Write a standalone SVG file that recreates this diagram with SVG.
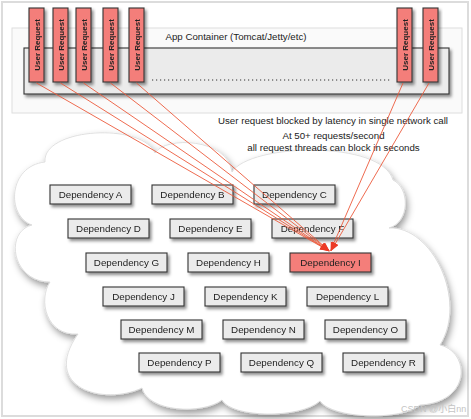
<svg xmlns="http://www.w3.org/2000/svg" width="471" height="419" viewBox="0 0 471 419">
<defs>
<style>
.t{font-family:"Liberation Sans",Arial,sans-serif;fill:#222}
.dep rect{fill:#ebebeb;stroke:#333;stroke-width:1.1}
.dep text{font-family:"Liberation Sans",Arial,sans-serif;font-size:9.8px;fill:#222;text-anchor:middle}
.hot rect{fill:#f47e7a}
.ur rect{fill:#f47e7a;stroke:#333;stroke-width:1.1}
.ur text{font-family:"Liberation Sans",Arial,sans-serif;font-size:8px;font-weight:bold;fill:#222;text-anchor:middle}
.con line{stroke:#ec5a3c;stroke-width:0.9;marker-end:url(#ah)}
</style>
<filter id="sh" x="-20%" y="-20%" width="150%" height="160%">
<feDropShadow dx="2" dy="2.5" stdDeviation="1.5" flood-color="#000" flood-opacity="0.45"/>
</filter>
<filter id="csh" x="-10%" y="-10%" width="130%" height="130%">
<feDropShadow dx="2" dy="4" stdDeviation="3.5" flood-color="#000" flood-opacity="0.4"/>
</filter>
<marker id="ah" markerUnits="userSpaceOnUse" markerWidth="10" markerHeight="8" refX="9" refY="3.5" orient="auto">
<path d="M0,0 L9,3.5 L0,7 z" fill="#ec3a26"/>
</marker>
</defs>
<rect x="0" y="0" width="471" height="419" fill="#fff"/>
<rect x="2" y="2" width="466" height="414" fill="#fff" stroke="#dcdcdc" stroke-width="2"/>

<g id="app-container">
<rect x="12" y="28" width="450" height="85" fill="#fafafa" stroke="#dedede" stroke-width="1"/>
<text class="t" x="236" y="39.5" font-size="9.7" text-anchor="middle">App Container (Tomcat/Jetty/etc)</text>
<rect x="24" y="48" width="425" height="46" fill="#ebebeb" stroke="#333" stroke-width="1.1" filter="url(#sh)"/>
<line x1="152" y1="80" x2="390" y2="80" stroke="#333" stroke-width="1.2" stroke-dasharray="1.2 2.8"/>
</g>

<g id="cloud">
<path d="M32,225 C6,216 8,166 45,162 C42,128 142,122 155,153 C165,136 228,138 232,172 C250,143 382,140 393,180 C410,188 410,222 389,228 C432,226 468,300 440,345 C470,352 472,402 420,405 C402,421 332,419 320,401 C300,419 232,418 222,400 C202,415 148,412 142,388 C104,406 40,388 78,334 C46,336 38,300 50,282 C12,282 4,232 32,225 Z" fill="#fff" stroke="#d9d9d9" stroke-width="0.8" filter="url(#csh)"/>
</g>

<g id="notes" class="t" font-size="9.7" text-anchor="middle">
<text x="333" y="124">User request blocked by latency in single network call</text>
<text x="333.5" y="139">At 50+ requests/second</text>
<text x="333.5" y="150.5">all request threads can block in seconds</text>
</g>

<g id="dep-a" class="dep" filter="url(#sh)"><rect x="50" y="185" width="81" height="19"/><text x="90.5" y="198">Dependency A</text></g>
<g id="dep-b" class="dep" filter="url(#sh)"><rect x="152" y="185" width="81" height="19"/><text x="192.5" y="198">Dependency B</text></g>
<g id="dep-c" class="dep" filter="url(#sh)"><rect x="254" y="185" width="81" height="19"/><text x="294.5" y="198">Dependency C</text></g>
<g id="dep-d" class="dep" filter="url(#sh)"><rect x="68" y="219" width="81" height="19"/><text x="108.5" y="232">Dependency D</text></g>
<g id="dep-e" class="dep" filter="url(#sh)"><rect x="170" y="219" width="81" height="19"/><text x="210.5" y="232">Dependency E</text></g>
<g id="dep-f" class="dep" filter="url(#sh)"><rect x="272" y="219" width="81" height="19"/><text x="312.5" y="232">Dependency F</text></g>
<g id="dep-g" class="dep" filter="url(#sh)"><rect x="86" y="253" width="81" height="19"/><text x="126.5" y="266">Dependency G</text></g>
<g id="dep-h" class="dep" filter="url(#sh)"><rect x="188" y="253" width="81" height="19"/><text x="228.5" y="266">Dependency H</text></g>
<g id="dep-i" class="dep hot" filter="url(#sh)"><rect x="290" y="253" width="81" height="19"/><text x="330.5" y="266">Dependency I</text></g>
<g id="dep-j" class="dep" filter="url(#sh)"><rect x="103" y="287" width="81" height="19"/><text x="143.5" y="300">Dependency J</text></g>
<g id="dep-k" class="dep" filter="url(#sh)"><rect x="205" y="287" width="81" height="19"/><text x="245.5" y="300">Dependency K</text></g>
<g id="dep-l" class="dep" filter="url(#sh)"><rect x="307" y="287" width="81" height="19"/><text x="347.5" y="300">Dependency L</text></g>
<g id="dep-m" class="dep" filter="url(#sh)"><rect x="121" y="320" width="81" height="19"/><text x="161.5" y="333">Dependency M</text></g>
<g id="dep-n" class="dep" filter="url(#sh)"><rect x="223" y="320" width="81" height="19"/><text x="263.5" y="333">Dependency N</text></g>
<g id="dep-o" class="dep" filter="url(#sh)"><rect x="325" y="320" width="81" height="19"/><text x="365.5" y="333">Dependency O</text></g>
<g id="dep-p" class="dep" filter="url(#sh)"><rect x="139" y="353" width="81" height="19"/><text x="179.5" y="366">Dependency P</text></g>
<g id="dep-q" class="dep" filter="url(#sh)"><rect x="241" y="353" width="81" height="19"/><text x="281.5" y="366">Dependency Q</text></g>
<g id="dep-r" class="dep" filter="url(#sh)"><rect x="343" y="353" width="81" height="19"/><text x="383.5" y="366">Dependency R</text></g>

<g id="ur-1" class="ur" filter="url(#sh)"><rect x="29" y="8" width="15" height="74"/><text transform="translate(39.5,45) rotate(-90)">User Request</text></g>
<g id="ur-2" class="ur" filter="url(#sh)"><rect x="53" y="8" width="15" height="74"/><text transform="translate(63.5,45) rotate(-90)">User Request</text></g>
<g id="ur-3" class="ur" filter="url(#sh)"><rect x="76" y="8" width="15" height="74"/><text transform="translate(86.5,45) rotate(-90)">User Request</text></g>
<g id="ur-4" class="ur" filter="url(#sh)"><rect x="103" y="8" width="15" height="74"/><text transform="translate(113.5,45) rotate(-90)">User Request</text></g>
<g id="ur-5" class="ur" filter="url(#sh)"><rect x="129" y="8" width="15" height="74"/><text transform="translate(139.5,45) rotate(-90)">User Request</text></g>
<g id="ur-6" class="ur" filter="url(#sh)"><rect x="397" y="8" width="15" height="74"/><text transform="translate(407.5,45) rotate(-90)">User Request</text></g>
<g id="ur-7" class="ur" filter="url(#sh)"><rect x="423" y="8" width="15" height="74"/><text transform="translate(433.5,45) rotate(-90)">User Request</text></g>

<g id="connectors" class="con">
<line x1="36.5" y1="83" x2="329" y2="251"/>
<line x1="60.5" y1="83" x2="329" y2="251"/>
<line x1="83.5" y1="83" x2="329" y2="251"/>
<line x1="110.5" y1="83" x2="329.5" y2="251"/>
<line x1="136.5" y1="83" x2="329.5" y2="251"/>
<line x1="403" y1="83" x2="330.5" y2="251"/>
<line x1="429" y1="83" x2="331" y2="251"/>
</g>

<text x="401" y="412" font-family="'Liberation Sans','Noto Sans CJK SC',sans-serif" font-size="9" fill="#c4c4c4">CSDN @小白nn</text>
</svg>
